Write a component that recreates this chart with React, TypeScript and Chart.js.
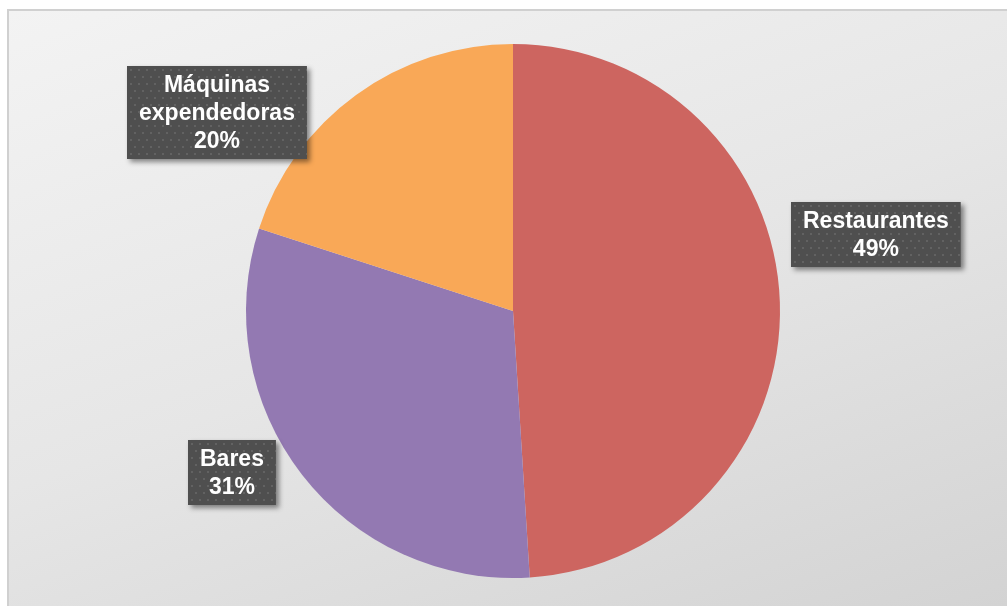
import React, { useEffect, useRef } from "react";
import { Chart, registerables } from "chart.js";

Chart.register(...registerables);

const categories = ["Restaurantes", "Bares", "Máquinas expendedoras"];
const values = [49, 31, 20];
const labelLines = [["Restaurantes", "49%"], ["Bares", "31%"], ["Máquinas", "expendedoras", "20%"]];
const sliceColors = ["#CD6560", "#9379B2", "#F9A857"];
// label box centres relative to pie centre, in units of pie radius
const labelOffsetX = [1.358, -1.054, -1.107];
const labelOffsetY = [-0.287, 0.605, -0.745];

const labelPlugin = {
  id: "boxLabels",
  afterDraw(chart: any) {
    const ctx = chart.ctx as CanvasRenderingContext2D;
    const meta = chart.getDatasetMeta(0);
    const arc0 = meta.data[0] as any;
    const cx = arc0.x;
    const cy = arc0.y;
    const r = arc0.outerRadius;
    const fontSize = 23;
    const lineH = 28;
    ctx.save();
    ctx.font = `bold ${fontSize}px "Liberation Sans", Arial, sans-serif`;
    meta.data.forEach((_: any, i: number) => {
      const lines = labelLines[i];
      const w = Math.max(...lines.map((l) => ctx.measureText(l).width)) + 24;
      const h = lines.length * lineH + 9;
      const bx = Math.round(cx + labelOffsetX[i] * r - w / 2);
      const by = Math.round(cy + labelOffsetY[i] * r - h / 2);
      ctx.save();
      ctx.shadowColor = "rgba(0,0,0,0.45)";
      ctx.shadowBlur = 5;
      ctx.shadowOffsetX = 3;
      ctx.shadowOffsetY = 3;
      ctx.fillStyle = "#4F4F4F";
      ctx.fillRect(bx, by, w, h);
      ctx.restore();
      ctx.save();
      ctx.beginPath();
      ctx.rect(bx, by, w, h);
      ctx.clip();
      ctx.fillStyle = "rgba(255,255,255,0.11)";
      for (let y = by + 3, row = 0; y < by + h; y += 7, row++) {
        const off = row % 2 === 0 ? 3 : 7;
        for (let x = bx + off; x < bx + w; x += 8) {
          ctx.fillRect(x, y, 2, 2);
        }
      }
      ctx.restore();
      ctx.fillStyle = "#FFFFFF";
      ctx.textAlign = "center";
      ctx.textBaseline = "middle";
      lines.forEach((l, k) => {
        ctx.fillText(l, bx + w / 2, by + 4.5 + lineH * k + lineH / 2 + 1);
      });
    });
    ctx.restore();
  },
};

export default function App() {
  const ref = useRef<HTMLCanvasElement>(null);
  useEffect(() => {
    document.body.style.overflow = "hidden";
    const chart = new Chart(ref.current!, {
      type: "pie",
      data: {
        labels: categories,
        datasets: [
          {
            data: values,
            backgroundColor: sliceColors,
            borderWidth: 0,
          },
        ],
      },
      options: {
        animation: false,
        responsive: false,
        maintainAspectRatio: false,
        layout: { padding: { top: 32, bottom: 27, left: 237, right: 227 } },
        plugins: { legend: { display: false }, tooltip: { enabled: false } },
      },
      plugins: [labelPlugin],
    });
    return () => chart.destroy();
  }, []);
  return (
    <div
      style={{
        position: "absolute",
        left: 7,
        top: 9,
        width: 998,
        height: 595,
        borderTop: "2px solid #D0D0D0",
        borderLeft: "2px solid #D0D0D0",
        background: "linear-gradient(160deg, #F3F3F3 0%, #E6E6E6 50%, #D3D3D3 100%)",
        overflow: "hidden",
      }}
    >
      <canvas ref={ref} width={998} height={595} style={{ display: "block" }} />
    </div>
  );
}
